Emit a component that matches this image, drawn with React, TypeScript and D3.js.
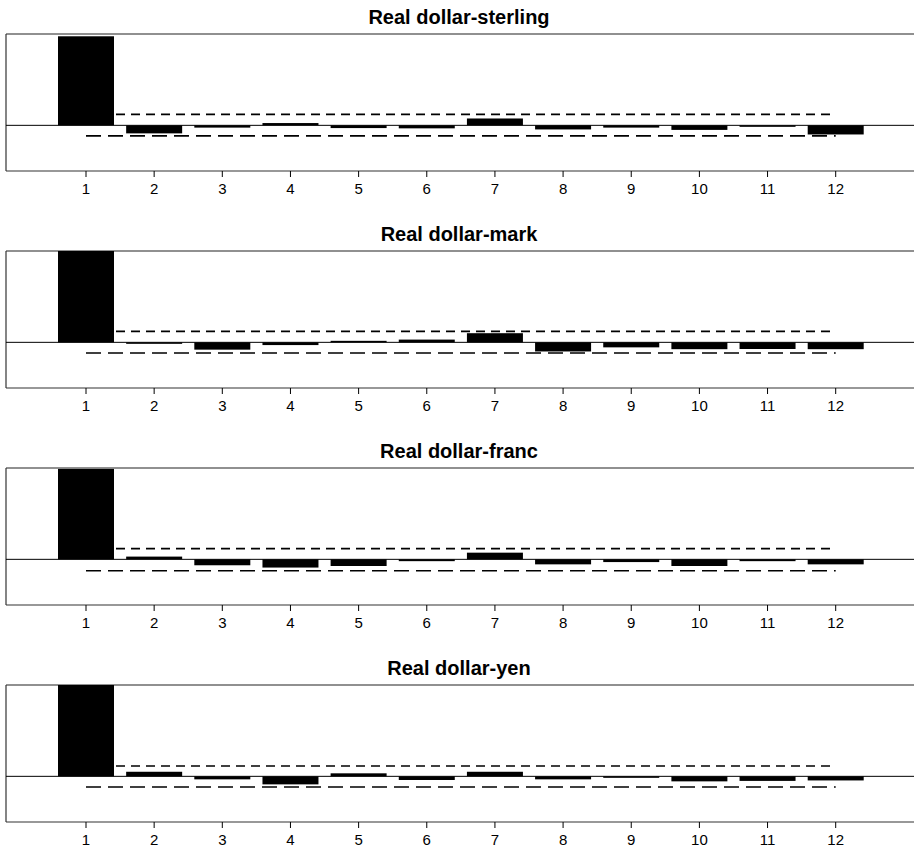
import React from "react";
import * as d3 from "d3";

const lags = [1, 2, 3, 4, 5, 6, 7, 8, 9, 10, 11, 12];
const tickLabels = ["1", "2", "3", "4", "5", "6", "7", "8", "9", "10", "11", "12"];
const titles = ["Real dollar-sterling", "Real dollar-mark", "Real dollar-franc", "Real dollar-yen"];

const sterling = [0.975, -0.088, -0.025, 0.025, -0.03, -0.033, 0.075, -0.045, -0.025, -0.05, -0.01, -0.1];
const mark = [1.0, -0.015, -0.08, -0.03, 0.015, 0.03, 0.1, -0.1, -0.055, -0.075, -0.073, -0.075];
const franc = [0.99, 0.03, -0.065, -0.09, -0.073, -0.02, 0.073, -0.055, -0.03, -0.073, -0.02, -0.055];
const yen = [1.0, 0.05, -0.033, -0.088, 0.033, -0.04, 0.05, -0.033, -0.01, -0.055, -0.05, -0.045];

const upperBand = [0.12, 0.12, 0.117, 0.113];
const lowerBand = [-0.115, -0.117, -0.125, -0.117];

const series = [sterling, mark, franc, yen];

const W = 914;
const H = 851;
const frameLeft = 6;
const panelH = 137;
const panelStep = 217;
const firstTop = 34;
const barW = 56;

const x = d3.scaleLinear().domain([1, 12]).range([86, 835.7]);

function Panel({ idx }: { idx: number }) {
  const top = firstTop + idx * panelStep;
  const y = d3.scaleLinear().domain([-0.5, 1.0]).range([top + panelH, top]);
  const vals = series[idx];
  const bandLine = d3
    .line<number>()
    .x((d) => x(d))
    .y(() => 0);
  const upPath = d3
    .line<number>()
    .x((d) => x(d))
    .y(() => y(upperBand[idx]))([1, 12]);
  const loPath = d3
    .line<number>()
    .x((d) => x(d))
    .y(() => y(lowerBand[idx]))([1, 12]);
  void bandLine;
  const bottom = top + panelH;
  return (
    <g>
      <text
        x={459}
        y={top - 10}
        textAnchor="middle"
        fontFamily="'Liberation Sans', Arial, sans-serif"
        fontWeight="bold"
        fontSize={20}
        fill="#000"
      >
        {titles[idx]}
      </text>
      {/* frame */}
      <line x1={frameLeft} x2={W + 10} y1={top} y2={top} stroke="#222" strokeWidth={1.2} />
      <line x1={frameLeft} x2={W + 10} y1={bottom} y2={bottom} stroke="#333" strokeWidth={1.2} />
      <line x1={frameLeft} x2={frameLeft} y1={top} y2={bottom} stroke="#333" strokeWidth={1.2} />
      {/* zero line */}
      <line x1={frameLeft} x2={W + 10} y1={y(0)} y2={y(0)} stroke="#000" strokeWidth={1} />
      {/* bands */}
      <path d={upPath || ""} stroke="#000" strokeWidth={1.6} strokeDasharray="9,6" fill="none" />
      <path d={loPath || ""} stroke="#000" strokeWidth={1.6} strokeDasharray="15,7" fill="none" />
      {/* bars */}
      {vals.map((v, i) => {
        const y0 = y(0);
        const y1 = y(v);
        const hh = Math.max(Math.abs(y1 - y0), 1.5);
        return (
          <rect
            key={i}
            x={x(lags[i]) - barW / 2}
            y={v >= 0 ? y0 - hh : y0}
            width={barW}
            height={hh}
            fill="#000"
          />
        );
      })}
      {/* ticks */}
      {lags.map((l, i) => (
        <g key={"t" + i}>
          <line x1={x(l)} x2={x(l)} y1={bottom} y2={bottom + 6} stroke="#000" strokeWidth={1} />
          <text
            x={x(l)}
            y={bottom + 22.5}
            textAnchor="middle"
            fontFamily="'Liberation Sans', Arial, sans-serif"
            fontSize={15}
            fill="#000"
          >
            {tickLabels[i]}
          </text>
        </g>
      ))}
    </g>
  );
}

export default function App() {
  return (
    <svg
      width={W}
      height={H}
      style={{ position: "absolute", left: 0, top: 0, background: "#fff" }}
    >
      <rect x={0} y={0} width={W} height={H} fill="#fff" />
      {titles.map((_, i) => (
        <Panel key={i} idx={i} />
      ))}
    </svg>
  );
}
